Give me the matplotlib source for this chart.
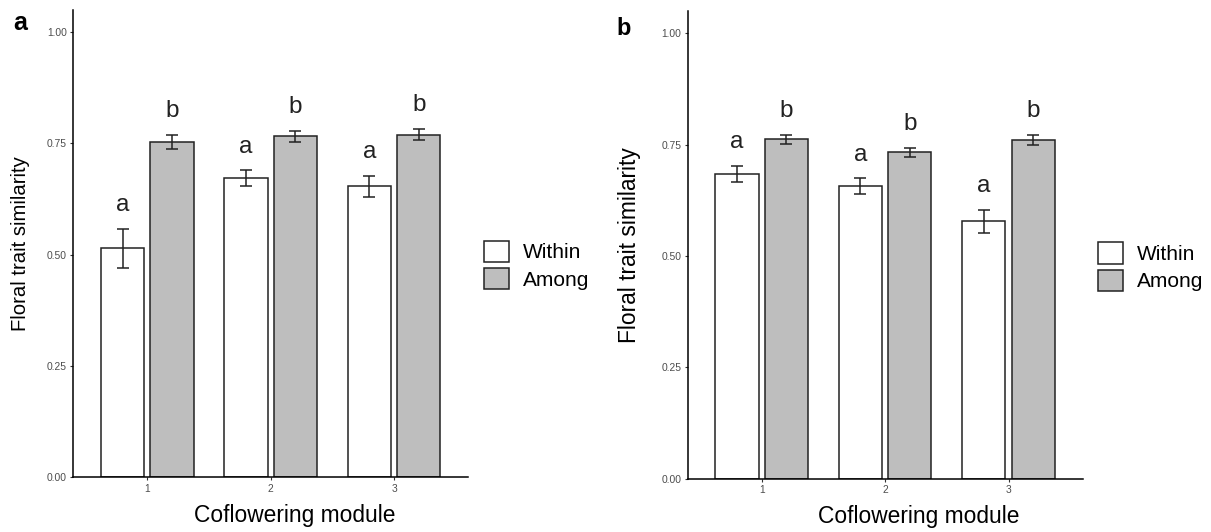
import numpy as np
import matplotlib
matplotlib.use('Agg')
import matplotlib.pyplot as plt

plt.rcParams['font.family'] = ['Liberation Sans', 'DejaVu Sans']

# data
modules      = [1, 2, 3]
groups       = ['Within', 'Among']
within_a     = [0.514, 0.671, 0.653]
within_a_se  = [0.043, 0.018, 0.023]
among_a      = [0.753, 0.766, 0.769]
among_a_se   = [0.015, 0.012, 0.0125]
within_b     = [0.684, 0.656, 0.578]
within_b_se  = [0.019, 0.018, 0.026]
among_b      = [0.762, 0.733, 0.760]
among_b_se   = [0.010, 0.010, 0.011]
letters_within = ['a', 'a', 'a']
letters_among  = ['b', 'b', 'b']

W, H = 1211, 532
fig = plt.figure(figsize=(W/100., H/100.), dpi=100)

def px_axes(l, r, t, b):
    return fig.add_axes([l/W, 1-b/H, (r-l)/W, (b-t)/H])

def panel(ax, within, within_se, among, among_se, ylpad, ylsize, xlpos):
    x = np.array(modules, dtype=float)
    bw = 0.35
    b1 = ax.bar(x-0.2, within, width=bw, color='white', edgecolor='#222222', linewidth=1.1, label=groups[0], zorder=2)
    b2 = ax.bar(x+0.2, among, width=bw, color='#bebebe', edgecolor='#222222', linewidth=1.1, label=groups[1], zorder=2)
    ax.errorbar(x-0.2, within, yerr=within_se, fmt='none', ecolor='#222222', elinewidth=1.1, capsize=4, capthick=1.1, zorder=3)
    ax.errorbar(x+0.2, among, yerr=among_se, fmt='none', ecolor='#222222', elinewidth=1.1, capsize=4, capthick=1.1, zorder=3)
    for i in range(len(modules)):
        ax.text(x[i]-0.2, within[i]+within_se[i]+0.04, letters_within[i], ha='center', va='baseline', fontsize=17.5, color='#222222')
        ax.text(x[i]+0.2, among[i]+among_se[i]+0.04, letters_among[i], ha='center', va='baseline', fontsize=17.5, color='#222222')
    ax.set_xlim(0.4, 3.6)
    ax.set_ylim(0, 1.05)
    ax.set_xticks(modules)
    ax.set_yticks([0, 0.25, 0.5, 0.75, 1.0])
    ax.set_yticklabels(['0.00', '0.25', '0.50', '0.75', '1.00'])
    ax.spines['top'].set_visible(False)
    ax.spines['right'].set_visible(False)
    ax.spines['left'].set_linewidth(1.1)
    ax.spines['bottom'].set_linewidth(1.1)
    ax.tick_params(labelsize=7.4, labelcolor='#4d4d4d', color='#333333', length=2.5, width=0.8, pad=2)
    ax.set_xlabel('Coflowering module', fontsize=16.4, labelpad=7.5)
    ax.xaxis.label.set_x(xlpos)
    ax.set_ylabel('Floral trait similarity', fontsize=ylsize, labelpad=ylpad)
    return b1, b2

ax1 = px_axes(73.3, 468.2, 9.7, 477.3)
h1 = panel(ax1, within_a, within_a_se, among_a, among_a_se, 12.5, 14.6, 0.561)
ax2 = px_axes(687.7, 1082.6, 11, 478.6)
h2 = panel(ax2, within_b, within_b_se, among_b, among_b_se, 14.4, 16.4, 0.585)

for ax, h, lx, ly in [(ax1, h1, 484.3, 240.7), (ax2, h2, 1098.3, 242.3)]:
    ax.legend(h, groups, loc='upper left', bbox_to_anchor=(lx/W, 1-ly/H), bbox_transform=fig.transFigure,
              frameon=False, fontsize=15, handlelength=1.2, handleheight=1.2, labelspacing=0.27,
              handletextpad=0.67, borderpad=0, borderaxespad=0)

fig.text(13/W, 1-30/H, 'a', fontsize=18, fontweight='bold', va='baseline')
fig.text(616/W, 1-35/H, 'b', fontsize=17, fontweight='bold', va='baseline')

plt.savefig('out.png', dpi=100)
